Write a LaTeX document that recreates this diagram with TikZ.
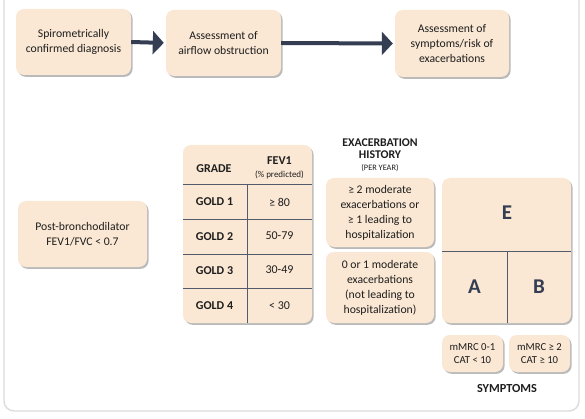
\documentclass[tikz,border=0pt]{standalone}
\usepackage{fontspec}
\setmainfont{Carlito}
\usetikzlibrary{arrows.meta,shadows}
\definecolor{boxfill}{HTML}{FAE8D4}
\definecolor{navy}{HTML}{343D52}
\definecolor{txt}{HTML}{1E1E1E}
\definecolor{frame}{HTML}{DCDCDC}
\tikzset{
  pbox/.style={draw=none, fill=boxfill, rounded corners=8pt, inner sep=0pt,
    align=center, text=txt, font=\fontsize{11.7}{15}\selectfont,
    drop shadow={shadow xshift=1.6pt, shadow yshift=-1.8pt, opacity=0.45, fill=black!60}},
  bigarrow/.style={draw=navy, line width=4pt, -{Triangle[length=11pt,width=23pt]}, shorten >=2pt},
  tline/.style={draw=navy!85, line width=0.8pt},
  lbl/.style={text=txt, inner sep=0pt, align=center},
  bold/.style={lbl, font=\bfseries\fontsize{12}{12}\selectfont},
  small/.style={lbl, font=\fontsize{9}{9}\selectfont},
  val/.style={lbl, font=\fontsize{12}{12}\selectfont},
  letter/.style={lbl, font=\bfseries\fontsize{21}{21}\selectfont, text=navy},
}
\begin{document}
\begin{tikzpicture}[x=1pt,y=-1pt]
\useasboundingbox (0,0) rectangle (585,419);
\fill[white] (0,0) rectangle (585,419);
% outer frame
\draw[frame, line width=1.4pt, rounded corners=10pt] (4,-30) -- (4,411) -- (579,411) -- (579,-30);
% top row
\node[pbox, minimum width=115pt, minimum height=66pt] (b1) at (73.5,42) {Spirometrically\\confirmed diagnosis};
\node[pbox, minimum width=115pt, minimum height=66pt] (b2) at (223.5,43) {Assessment of\\airflow obstruction};
\node[pbox, minimum width=114pt, minimum height=67pt] (b3) at (452,43.5) {Assessment of\\symptoms/risk of\\exacerbations};
\draw[bigarrow] (b1.east) -- (b2.west);
\draw[bigarrow] (b2.east) -- (b3.west);
% post-bronchodilator
\node[pbox, minimum width=129pt, minimum height=66pt] (post) at (82.5,234) {Post-bronchodilator\\FEV1/FVC < 0.7};
% table
\node[pbox, minimum width=129pt, minimum height=178pt] (tab) at (247.5,234) {};
\coordinate (hl) at (183,184); \coordinate (hr) at (312,184);
\coordinate (r1l) at (183,219); \coordinate (r1r) at (312,219);
\coordinate (r2l) at (183,254); \coordinate (r2r) at (312,254);
\coordinate (r3l) at (183,288); \coordinate (r3r) at (312,288);
\coordinate (vt) at (247,184); \coordinate (vb) at (247,323);
\draw[tline] (hl) -- (hr);
\draw[tline] (r1l) -- (r1r);
\draw[tline] (r2l) -- (r2r);
\draw[tline] (r3l) -- (r3r);
\draw[tline] (vt) -- (vb);
\node[bold] (grade) at (214,169) {GRADE};
\node[bold] (fev) at (279.5,161) {FEV1};
\node[small] (pred) at (279.5,174.5) {(\% predicted)};
\node[bold] (g1) at (214.5,201.5) {GOLD 1};
\node[bold] (g2) at (214.5,236.5) {GOLD 2};
\node[bold] (g3) at (214.5,271) {GOLD 3};
\node[bold] (g4) at (214.5,305.5) {GOLD 4};
\node[val] (v1) at (279.5,202) {≥ 80};
\node[val] (v2) at (279.5,235.5) {50-79};
\node[val] (v3) at (279.5,270) {30-49};
\node[val] (v4) at (279.5,305.5) {< 30};
% exacerbation history
\node[bold, font=\bfseries\fontsize{11.8}{12}\selectfont] (eh) at (380,149) {EXACERBATION\\HISTORY};
\node[small, font=\fontsize{8.3}{9}\selectfont] (py) at (380,168) {(PER YEAR)};
\node[pbox, minimum width=108pt, minimum height=69pt] (ex1) at (380,212.5) {≥ 2 moderate\\exacerbations or\\≥ 1 leading to\\hospitalization};
\node[pbox, minimum width=108pt, minimum height=71pt] (ex2) at (380,287.5) {0 or 1 moderate\\exacerbations\\(not leading to\\hospitalization)};
% grid
\node[pbox, minimum width=129pt, minimum height=145pt] (grid) at (506.5,250.5) {};
\coordinate (gl) at (442,251); \coordinate (gr) at (571,251);
\coordinate (gvt) at (507,251); \coordinate (gvb) at (507,323);
\draw[tline] (gl) -- (gr);
\draw[tline] (gvt) -- (gvb);
\node[letter] (E) at (507,213) {E};
\node[letter] (A) at (474.5,287) {A};
\node[letter] (B) at (539,287) {B};
% symptoms
\node[pbox, minimum width=61pt, minimum height=37pt, font=\fontsize{10.7}{13.5}\selectfont] (s1) at (472.5,353.5) {mMRC 0-1\\CAT < 10};
\node[pbox, minimum width=61pt, minimum height=37pt, font=\fontsize{10.7}{13.5}\selectfont] (s2) at (539.5,353.5) {mMRC ≥ 2\\CAT ≥ 10};
\node[bold, font=\bfseries\fontsize{12.3}{12}\selectfont] (sym) at (507,389) {SYMPTOMS};
\end{tikzpicture}
\end{document}
